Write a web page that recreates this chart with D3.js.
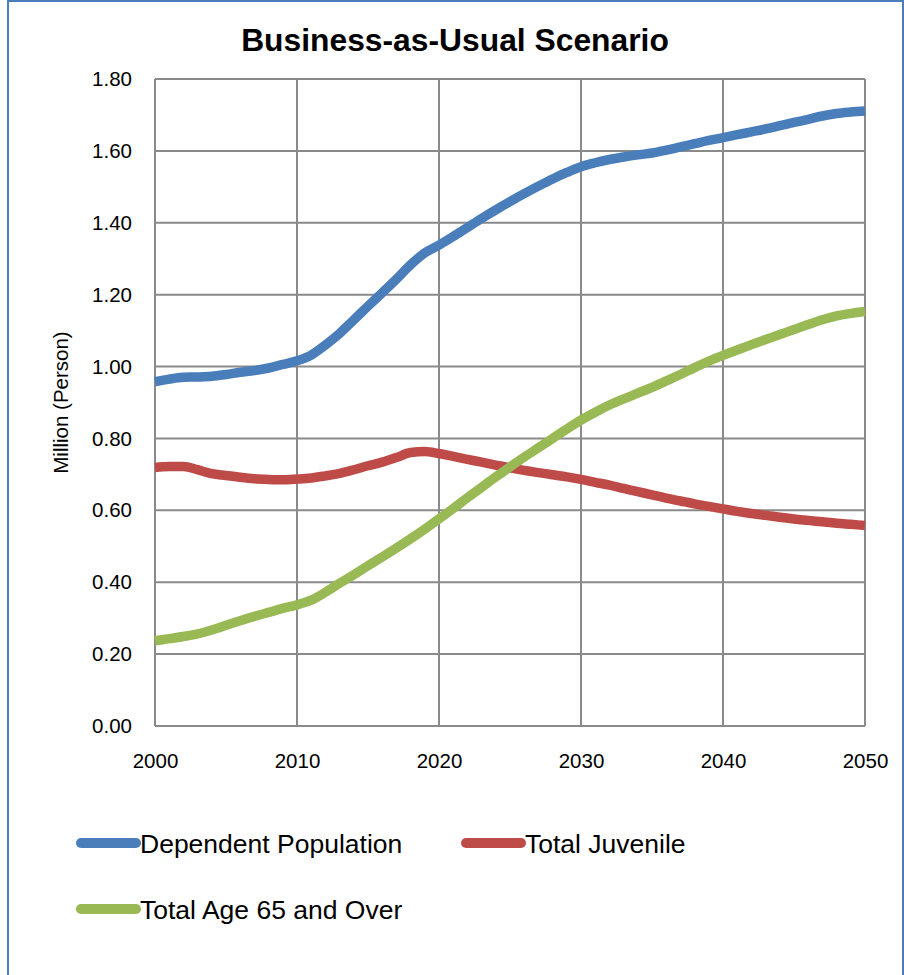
<!DOCTYPE html>
<html>
<head>
<meta charset="utf-8">
<script src="https://cdn.jsdelivr.net/npm/d3@7"></script>
<style>
  html, body { margin: 0; padding: 0; background: #fff; }
  svg { display: block; font-family: "Liberation Sans", Arial, sans-serif; }
</style>
</head>
<body>
<svg id="chart" width="904" height="975"></svg>
<script>
// Projection years, 2000–2050
const years = d3.range(2000, 2051);

// Million persons, by year
const dependentPopulation = [
  0.958, 0.965, 0.970, 0.971, 0.973, 0.978, 0.984, 0.989, 0.996, 1.006,
  1.016, 1.032, 1.060, 1.092, 1.130, 1.168, 1.205, 1.243, 1.283, 1.316,
  1.338, 1.362, 1.387, 1.412, 1.436, 1.459, 1.481, 1.502, 1.522, 1.540,
  1.556, 1.567, 1.576, 1.583, 1.589, 1.594, 1.602, 1.611, 1.620, 1.629,
  1.637, 1.645, 1.653, 1.661, 1.670, 1.679, 1.688, 1.697, 1.704, 1.708,
  1.711
];
const totalJuvenile = [
  0.719, 0.722, 0.722, 0.713, 0.702, 0.697, 0.692, 0.688, 0.686, 0.685,
  0.687, 0.690, 0.696, 0.703, 0.713, 0.724, 0.734, 0.747, 0.761, 0.764,
  0.758, 0.750, 0.742, 0.734, 0.726, 0.718, 0.711, 0.705, 0.699, 0.693,
  0.686, 0.678, 0.670, 0.661, 0.652, 0.643, 0.634, 0.626, 0.618, 0.611,
  0.604, 0.597, 0.591, 0.586, 0.581, 0.576, 0.572, 0.568, 0.564, 0.561,
  0.558
];
const totalAge65Over = [
  0.237, 0.243, 0.249, 0.256, 0.267, 0.280, 0.293, 0.305, 0.316, 0.327,
  0.337, 0.350, 0.372, 0.397, 0.421, 0.446, 0.470, 0.495, 0.521, 0.548,
  0.576, 0.605, 0.635, 0.664, 0.693, 0.721, 0.748, 0.774, 0.800, 0.826,
  0.851, 0.873, 0.893, 0.910, 0.926, 0.942, 0.960, 0.978, 0.997, 1.015,
  1.031, 1.046, 1.061, 1.075, 1.089, 1.103, 1.117, 1.130, 1.141, 1.148,
  1.153
];

const seriesNames = ["Dependent Population", "Total Juvenile", "Total Age 65 and Over"];
const seriesColors = ["#4a7ebb", "#be4b48", "#98b954"];
const xTicks = [2000, 2010, 2020, 2030, 2040, 2050];
const yTicks = [0, 0.2, 0.4, 0.6, 0.8, 1.0, 1.2, 1.4, 1.6, 1.8];

const chartTitle = "Business-as-Usual Scenario";
const yAxisTitle = "Million (Person)";

const series = [dependentPopulation, totalJuvenile, totalAge65Over].map((vals, i) => ({
  name: seriesNames[i],
  color: seriesColors[i],
  values: years.map((y, j) => ({ year: y, value: vals[j] }))
}));

const svg = d3.select("#chart");

// Outer frame
svg.append("rect")
  .attr("x", 8).attr("y", 1)
  .attr("width", 895).attr("height", 990)
  .attr("fill", "#fff")
  .attr("stroke", "#4a7ebb")
  .attr("stroke-width", 2);

const plot = { left: 155, top: 79, right: 865, bottom: 726 };

const x = d3.scaleLinear().domain([2000, 2050]).range([plot.left, plot.right]);
const y = d3.scaleLinear().domain([0, 1.8]).range([plot.bottom, plot.top]);

// Grid lines and plot border
const grid = svg.append("g");
grid.selectAll("line.h").data(yTicks).join("line")
  .attr("x1", plot.left).attr("x2", plot.right)
  .attr("y1", d => y(d)).attr("y2", d => y(d))
  .attr("stroke", "#8a8a8a").attr("stroke-width", 2);
grid.selectAll("line.v").data(xTicks).join("line")
  .attr("y1", plot.top).attr("y2", plot.bottom)
  .attr("x1", d => x(d)).attr("x2", d => x(d))
  .attr("stroke", "#8a8a8a").attr("stroke-width", 2);

// Y axis tick labels
const yAxis = d3.axisLeft(y).tickValues(yTicks).tickFormat(d3.format(".2f"))
  .tickSize(0).tickPadding(23);
svg.append("g")
  .attr("transform", `translate(${plot.left},0)`)
  .call(yAxis)
  .call(g => g.select(".domain").remove())
  .call(g => g.selectAll("text")
    .attr("font-size", 20.5).attr("fill", "#000")
    .attr("font-family", "'Liberation Sans', Arial, sans-serif"));

// X axis tick labels
const xAxis = d3.axisBottom(x).tickValues(xTicks).tickFormat(d3.format("d"))
  .tickSize(0).tickPadding(27);
svg.append("g")
  .attr("transform", `translate(0,${plot.bottom})`)
  .call(xAxis)
  .call(g => g.select(".domain").remove())
  .call(g => g.selectAll("text")
    .attr("font-size", 20.5).attr("fill", "#000")
    .attr("font-family", "'Liberation Sans', Arial, sans-serif"));

// Series lines
const line = d3.line()
  .x(d => x(d.year))
  .y(d => y(d.value))
  .curve(d3.curveMonotoneX);

svg.append("g").selectAll("path").data(series).join("path")
  .attr("d", d => line(d.values))
  .attr("fill", "none")
  .attr("stroke", d => d.color)
  .attr("stroke-width", 9.5)
  .attr("stroke-linejoin", "round")
  .attr("stroke-linecap", "butt");

// Title
svg.append("text")
  .attr("x", 455).attr("y", 51)
  .attr("text-anchor", "middle")
  .attr("font-size", 31.8).attr("font-weight", "bold")
  .text(chartTitle);

// Y axis title
svg.append("text")
  .attr("transform", `translate(68,${(plot.top + plot.bottom) / 2}) rotate(-90)`)
  .attr("text-anchor", "middle")
  .attr("font-size", 20.5)
  .text(yAxisTitle);

// Legend
const legendItems = [
  { s: series[0], lx: 81, ly: 843 },
  { s: series[1], lx: 466, ly: 843 },
  { s: series[2], lx: 81, ly: 909 }
];
const legend = svg.append("g").selectAll("g").data(legendItems).join("g")
  .attr("transform", d => `translate(${d.lx},${d.ly})`);
legend.append("line")
  .attr("x1", 0).attr("x2", 55).attr("y1", 0).attr("y2", 0)
  .attr("stroke", d => d.s.color)
  .attr("stroke-width", 10)
  .attr("stroke-linecap", "round");
legend.append("text")
  .attr("x", 59).attr("y", 10)
  .attr("font-size", 26.5)
  .text(d => d.s.name);
</script>
</body>
</html>
